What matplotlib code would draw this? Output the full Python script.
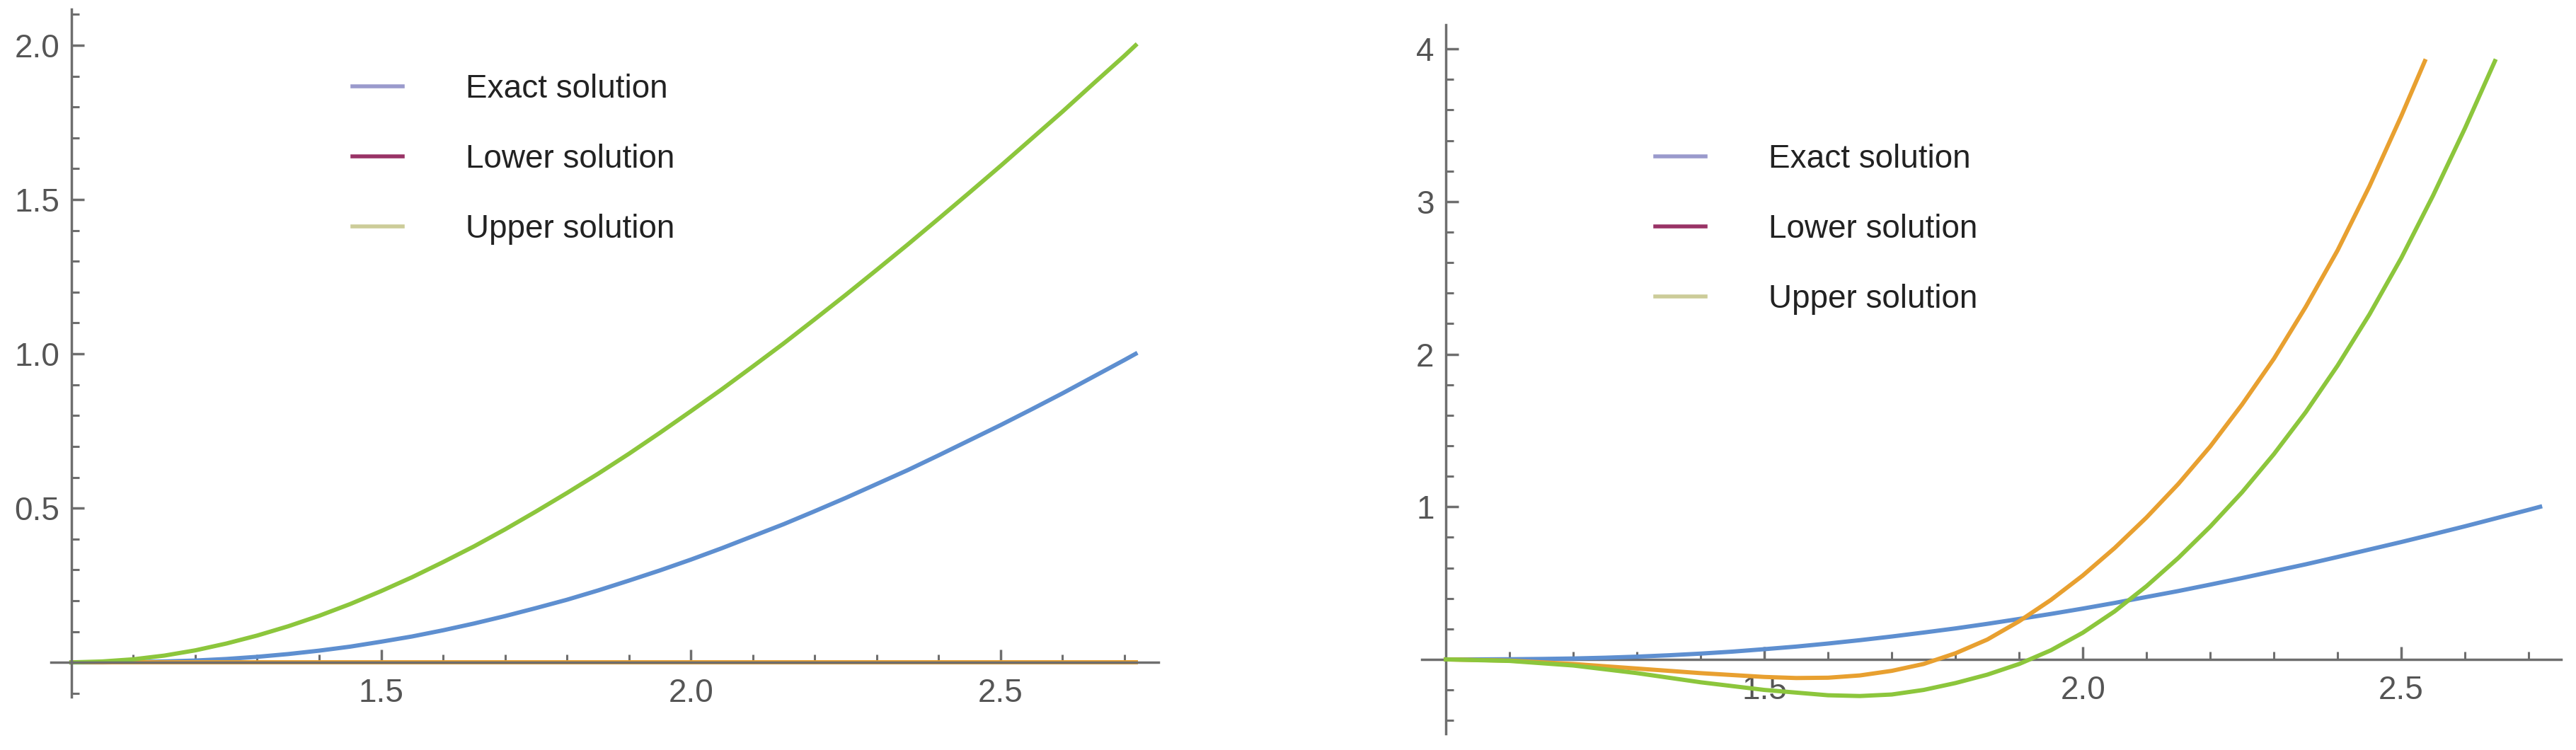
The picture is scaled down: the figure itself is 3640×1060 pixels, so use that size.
import matplotlib.pyplot as plt
from matplotlib.lines import Line2D
from matplotlib.ticker import FixedLocator
import numpy as np

plt.rcParams['font.family'] = ['Liberation Sans', 'DejaVu Sans']

# Lewy wykres: rozwiazanie dokladne, dolne i gorne
x_left = np.array([1.0, 1.05, 1.1, 1.15, 1.2, 1.25, 1.3, 1.35, 1.4, 1.45, 1.5, 1.55, 1.6,
                   1.65, 1.7, 1.75, 1.8, 1.85, 1.9, 1.95, 2.0, 2.05, 2.1, 2.15, 2.2, 2.25,
                   2.3, 2.35, 2.4, 2.45, 2.5, 2.55, 2.6, 2.65, 2.7, 2.718])
exact_left = np.array([0.0, 0.0, 0.001, 0.003, 0.006, 0.011, 0.018, 0.027, 0.038, 0.051,
                       0.067, 0.084, 0.104, 0.126, 0.150, 0.176, 0.203, 0.233, 0.265, 0.298,
                       0.333, 0.370, 0.409, 0.448, 0.490, 0.533, 0.578, 0.623, 0.671, 0.720,
                       0.769, 0.820, 0.872, 0.926, 0.980, 1.0])
lower_left = np.array([0.0] * 36)
upper_left = np.array([0.0, 0.003, 0.010, 0.022, 0.039, 0.061, 0.087, 0.117, 0.151, 0.189,
                       0.231, 0.276, 0.325, 0.376, 0.431, 0.489, 0.549, 0.611, 0.676, 0.744,
                       0.814, 0.885, 0.959, 1.034, 1.112, 1.191, 1.272, 1.354, 1.438, 1.523,
                       1.609, 1.697, 1.785, 1.876, 1.966, 2.0])

# Prawy wykres
x_exact_right = x_left
exact_right = exact_left
x_lower_right = np.array([1.0, 1.1, 1.2, 1.3, 1.4, 1.5, 1.55, 1.6, 1.65, 1.7, 1.75, 1.8,
                          1.85, 1.9, 1.95, 2.0, 2.05, 2.1, 2.15, 2.2, 2.25, 2.3, 2.35, 2.4,
                          2.45, 2.5, 2.537])
lower_right = np.array([0.0, -0.008, -0.03, -0.06, -0.09, -0.115, -0.122, -0.12, -0.105,
                        -0.075, -0.03, 0.04, 0.13, 0.25, 0.39, 0.55, 0.73, 0.93, 1.15,
                        1.395, 1.67, 1.97, 2.31, 2.68, 3.10, 3.56, 3.92])
x_upper_right = np.array([1.0, 1.1, 1.2, 1.3, 1.4, 1.5, 1.6, 1.65, 1.7, 1.75, 1.8, 1.85,
                          1.9, 1.95, 2.0, 2.05, 2.1, 2.15, 2.2, 2.25, 2.3, 2.35, 2.4, 2.45,
                          2.5, 2.55, 2.6, 2.647])
upper_right = np.array([0.0, -0.01, -0.04, -0.09, -0.15, -0.2, -0.235, -0.24, -0.23, -0.2,
                        -0.155, -0.1, -0.03, 0.06, 0.175, 0.315, 0.48, 0.665, 0.87, 1.095,
                        1.345, 1.62, 1.925, 2.26, 2.63, 3.04, 3.48, 3.92])

labels = ["Exact solution", "Lower solution", "Upper solution"]
line_colors = ["#5E8FD0", "#E8A030", "#8CC63C"]
legend_colors = ["#9A9ACC", "#993366", "#CCCC99"]

W, H = 3640, 1060
fig = plt.figure(figsize=(W / 100, H / 100), dpi=100)

def make_axes(px_left, px_right, px_top, px_bottom, xlim, ylim, yticks, yticklabels, yminor):
    ax = fig.add_axes([px_left / W, (H - px_bottom) / H,
                       (px_right - px_left) / W, (px_bottom - px_top) / H])
    ax.set_xlim(*xlim)
    ax.set_ylim(*ylim)
    for s in ['top', 'right']:
        ax.spines[s].set_visible(False)
    ax.spines['left'].set_position(('data', 1.0))
    ax.spines['bottom'].set_position(('data', 0.0))
    for s in ['left', 'bottom']:
        ax.spines[s].set_color('#6E6E6E')
        ax.spines[s].set_linewidth(2.5)
        ax.spines[s].set_zorder(4)
    ax.set_xticks([1.5, 2.0, 2.5])
    ax.set_xticklabels(["1.5", "2.0", "2.5"])
    ax.xaxis.set_minor_locator(FixedLocator([1.1, 1.2, 1.3, 1.4, 1.6, 1.7, 1.8, 1.9,
                                             2.1, 2.2, 2.3, 2.4, 2.6, 2.7]))
    ax.set_yticks(yticks)
    ax.set_yticklabels(yticklabels)
    ax.yaxis.set_minor_locator(FixedLocator(yminor))
    ax.tick_params(which='major', direction='in', length=13, width=2.5, color='#6E6E6E',
                   labelsize=33, labelcolor='#555555')
    ax.tick_params(which='minor', direction='in', length=8, width=2.2, color='#6E6E6E')
    ax.tick_params(axis='x', which='major', pad=16)
    ax.tick_params(axis='y', which='major', pad=12)
    ax.patch.set_alpha(0)
    return ax

ax1 = make_axes(72, 1637, 13, 985, (0.967, 2.755), (-0.112, 2.117),
                [0.5, 1.0, 1.5, 2.0], ["0.5", "1.0", "1.5", "2.0"],
                [-0.1, 0.1, 0.2, 0.3, 0.4, 0.6, 0.7, 0.8, 0.9, 1.1, 1.2, 1.3, 1.4,
                 1.6, 1.7, 1.8, 1.9, 2.1])
ax1.plot(x_left, exact_left, color=line_colors[0], lw=4.3, zorder=3)
ax1.plot(x_left, lower_left, color=line_colors[1], lw=4.3, zorder=3)
ax1.plot(x_left, upper_left, color=line_colors[2], lw=4.3, zorder=3)

ax2 = make_axes(2009, 3619, 35, 1037, (0.962, 2.751), (-0.487, 4.158),
                [1, 2, 3, 4], ["1", "2", "3", "4"],
                [-0.4, -0.2, 0.2, 0.4, 0.6, 0.8, 1.2, 1.4, 1.6, 1.8, 2.2, 2.4, 2.6, 2.8,
                 3.2, 3.4, 3.6, 3.8])
ax2.plot(x_exact_right, exact_right, color=line_colors[0], lw=4.3, zorder=5)
ax2.plot(x_lower_right, lower_right, color=line_colors[1], lw=4.3, zorder=5)
ax2.plot(x_upper_right, upper_right, color=line_colors[2], lw=4.3, zorder=5)

handles = [Line2D([], [], color=c, lw=4) for c in legend_colors]
for ax, lx, ly in [(ax1, 498, 104), (ax2, 2339, 203)]:
    ax.legend(handles, labels, loc='upper left', bbox_to_anchor=(lx / W, (H - ly) / H),
              bbox_transform=fig.transFigure, frameon=False, fontsize=33,
              handlelength=1.55, handletextpad=1.95, labelspacing=1.2,
              borderpad=0, borderaxespad=0, labelcolor='#222222')

fig.savefig("out.png", dpi=100)
